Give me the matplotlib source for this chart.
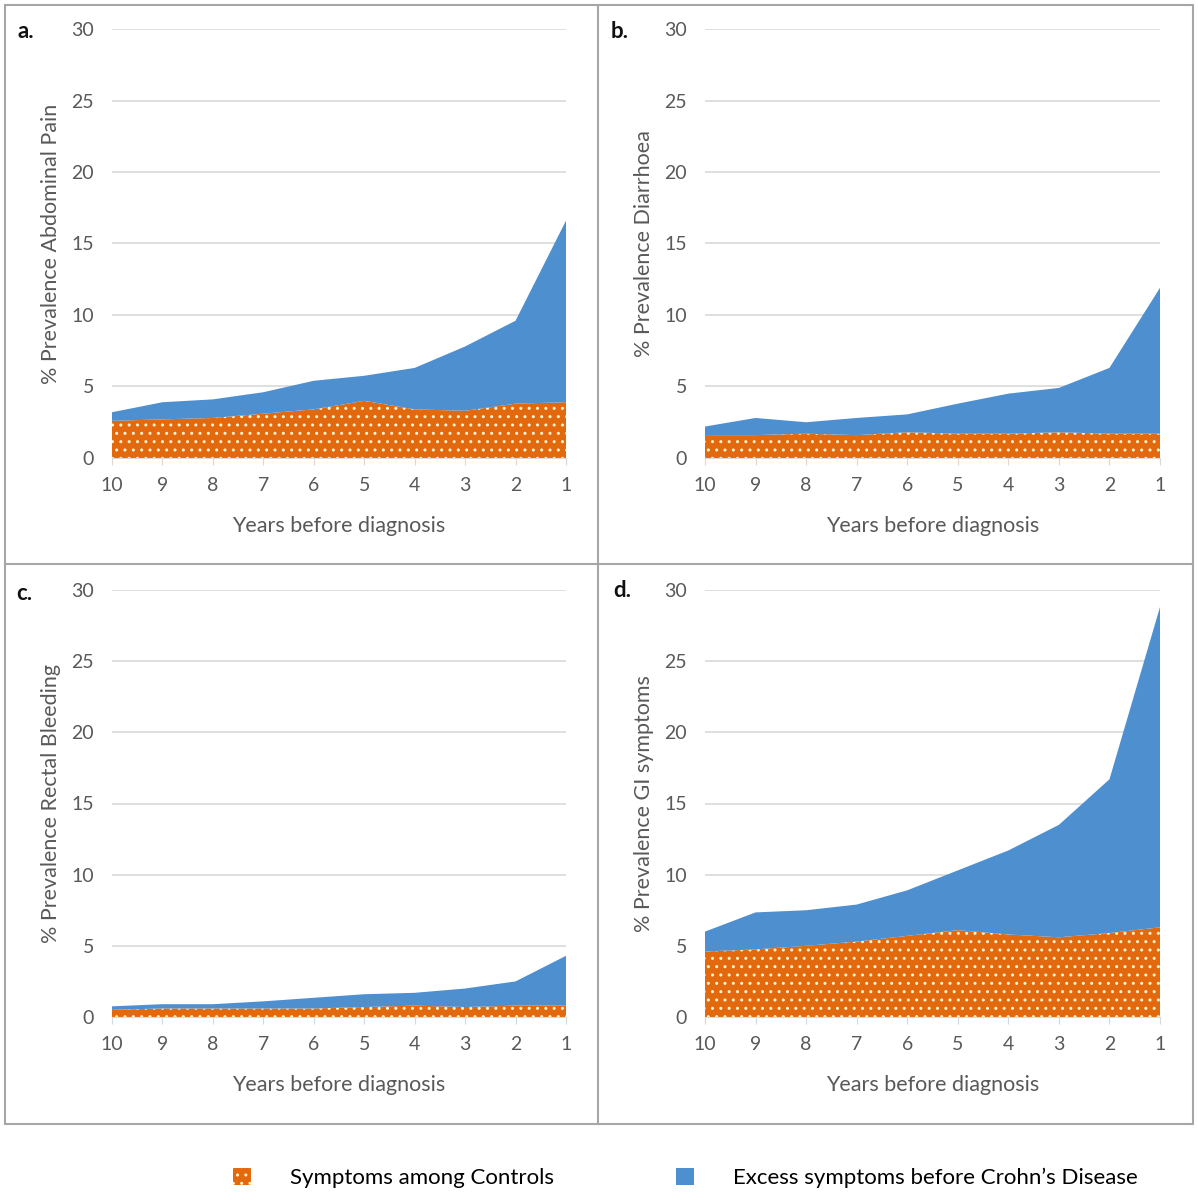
import numpy as np
import matplotlib
matplotlib.use("Agg")
import matplotlib.pyplot as plt
from matplotlib.patches import Rectangle, Patch
from matplotlib.lines import Line2D

plt.rcParams['font.family'] = ['Lato', 'DejaVu Sans']
plt.rcParams['hatch.linewidth'] = 1.0

# years before diagnosis
years = [10, 9, 8, 7, 6, 5, 4, 3, 2, 1]

# % prevalence
pain_controls = [2.6, 2.7, 2.8, 3.1, 3.4, 4.0, 3.4, 3.3, 3.8, 3.9]
pain_excess = [0.6, 1.2, 1.3, 1.5, 2.0, 1.75, 2.9, 4.5, 5.8, 12.7]

diar_controls = [1.6, 1.6, 1.7, 1.6, 1.8, 1.7, 1.7, 1.8, 1.7, 1.7]
diar_excess = [0.6, 1.2, 0.8, 1.2, 1.25, 2.1, 2.8, 3.1, 4.6, 10.2]

bleed_controls = [0.5, 0.6, 0.6, 0.6, 0.6, 0.7, 0.8, 0.7, 0.8, 0.8]
bleed_excess = [0.25, 0.3, 0.3, 0.5, 0.75, 0.9, 0.9, 1.3, 1.7, 3.5]

gi_controls = [4.6, 4.75, 5.0, 5.3, 5.7, 6.1, 5.8, 5.6, 5.9, 6.3]
gi_excess = [1.4, 2.6, 2.5, 2.6, 3.2, 4.2, 5.9, 7.9, 10.8, 22.5]

y_ticks = [0, 5, 10, 15, 20, 25, 30]

panels = [
    ('a.', '% Prevalence Abdominal Pain', pain_controls, pain_excess),
    ('b.', '% Prevalence Diarrhoea', diar_controls, diar_excess),
    ('c.', '% Prevalence Rectal Bleeding', bleed_controls, bleed_excess),
    ('d.', '% Prevalence GI symptoms', gi_controls, gi_excess),
]

orange = '#E2690E'
blue = '#4E8FD0'
dots = '#FFF4D0'
grey_txt = '#595959'
W, H = 1198, 1200

fig = plt.figure(figsize=(W / 100, H / 100), dpi=100)

# plot areas in pixels: left, top, right, bottom
boxes = [(112, 29, 566, 458), (705, 29, 1160, 458),
         (112, 590, 566, 1017), (705, 590, 1160, 1017)]
tag_pos = [(26, 31), (620, 31), (24, 593), (622, 591)]

for (tag, ylab, ctrl, exc), (l, t, r, b), (tx, ty) in zip(panels, boxes, tag_pos):
    ax = fig.add_axes([l / W, 1 - b / H, (r - l) / W, (b - t) / H])
    polys = ax.stackplot(years, ctrl, exc, colors=[orange, blue], linewidth=0)
    polys[0].set_hatch('..')
    polys[0].set_edgecolor(dots)
    polys[0].set_linewidth(0)
    ax.set_xlim(10, 1)
    ax.set_ylim(0, 30)
    ax.set_xticks(years)
    ax.set_yticks(y_ticks)
    ax.grid(axis='y', color='#D9D9D9', linewidth=1.2)
    ax.set_axisbelow(True)
    for s in ['top', 'right', 'left']:
        ax.spines[s].set_visible(False)
    ax.spines['bottom'].set_color('#D9D9D9')
    ax.tick_params(axis='y', length=0, pad=13, labelsize=14, labelcolor=grey_txt)
    ax.tick_params(axis='x', length=5, color='#D9D9D9', pad=9, labelsize=14,
                   labelcolor=grey_txt)
    ax.set_ylabel(ylab, fontsize=15.5, color=grey_txt)
    ax.yaxis.set_label_coords(-0.112, 0.5)
    ax.set_xlabel('Years before diagnosis', fontsize=15.5, color=grey_txt)
    ax.xaxis.set_label_coords(0.5, -0.135)
    fig.text(tx / W, 1 - ty / H, tag, fontsize=16, fontweight='bold',
             ha='center', va='center', color='#111111')

# panel frames
frame = '#A6A6A6'
fig.add_artist(Rectangle((5 / W, 1 - 1124 / H), 1188 / W, 1119 / H,
                         transform=fig.transFigure, fill=False,
                         edgecolor=frame, linewidth=1.5))
fig.add_artist(Line2D([598 / W, 598 / W], [1 - 1124 / H, 1 - 5 / H],
                      transform=fig.transFigure, color=frame, linewidth=1.5))
fig.add_artist(Line2D([5 / W, 1193 / W], [1 - 564 / H, 1 - 564 / H],
                      transform=fig.transFigure, color=frame, linewidth=1.5))

handles = [Patch(facecolor=orange, edgecolor=dots, hatch='..', linewidth=0),
           Patch(facecolor=blue, linewidth=0)]
fig.legend(handles, ['Symptoms among Controls', "Excess symptoms before Crohn\u2019s Disease"],
           loc='center', bbox_to_anchor=(0.572, 1 - 1178 / H), ncol=2, frameon=False,
           fontsize=16, handlelength=0.8, handleheight=0.8,
           handletextpad=1.75, columnspacing=5.5)

fig.savefig('out.png', dpi=100, facecolor='white')
